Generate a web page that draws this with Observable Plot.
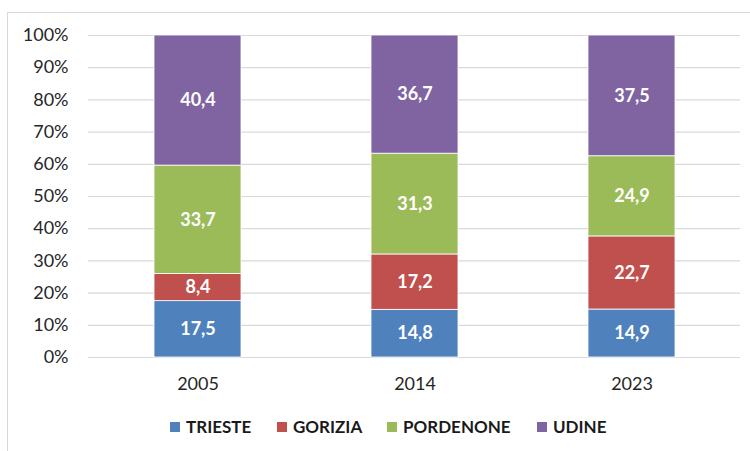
<!DOCTYPE html>
<html><head><meta charset="utf-8">
<script src="https://cdn.jsdelivr.net/npm/d3@7"></script>
<script src="https://cdn.jsdelivr.net/npm/@observablehq/plot@0.6"></script>
<style>
body{margin:0;background:#fff;font-family:Lato,"Open Sans",sans-serif;overflow:hidden;}
#frame{position:absolute;left:7px;top:12px;width:760px;height:460px;border:1px solid #d9d9d9;box-sizing:border-box;}
#chart{position:absolute;left:0;top:0;}
#legend{position:absolute;left:0;top:417px;width:750px;height:20px;}
.item{position:absolute;top:0;display:flex;align-items:center;font-weight:bold;font-size:17px;color:#1a1a1a;line-height:20px;}
.sw{width:10px;height:10px;margin-right:6px;display:inline-block;}
</style></head>
<body>
<div id="frame"></div>
<div id="chart"></div>
<div id="legend"></div>
<script>
const years = ["2005", "2014", "2023"];
const provinces = ["TRIESTE", "GORIZIA", "PORDENONE", "UDINE"];
const trieste = [17.5, 14.8, 14.9];
const gorizia = [8.4, 17.2, 22.7];
const pordenone = [33.7, 31.3, 24.9];
const udine = [40.4, 36.7, 37.5];
const colors = ["#4F81BD", "#C0504D", "#9BBB59", "#8064A2"];
const yTicks = [0, 10, 20, 30, 40, 50, 60, 70, 80, 90, 100];
const legendX = [170, 277, 387, 537];

const series = [trieste, gorizia, pordenone, udine];
const data = [];
provinces.forEach((p, i) => years.forEach((y, j) => data.push({year: y, province: p, value: series[i][j]})));
const fmt = v => v.toFixed(1).replace(".", ",");

const chart = Plot.plot({
  width: 750,
  height: 400,
  marginTop: 35,
  marginBottom: 43,
  marginLeft: 88,
  marginRight: 10,
  style: {fontFamily: "Lato, 'Open Sans', sans-serif", fontSize: "18px", color: "#262626", background: "transparent"},
  x: {domain: years, paddingInner: 0.6, paddingOuter: 0.3, label: null, tickSize: 0, tickPadding: 20},
  y: {domain: [0, 100], ticks: yTicks, tickFormat: d => d + "%", label: null, tickSize: 0, tickPadding: 20},
  color: {domain: provinces, range: colors},
  marks: [
    Plot.ruleY(yTicks, {stroke: "#d9d9d9", strokeWidth: 1.2}),
    Plot.barY(data, Plot.stackY({x: "year", y: "value", fill: "province", order: provinces, stroke: "#ffffff", strokeWidth: 0.8})),
    Plot.text(data, Plot.stackY({x: "year", y: "value", z: "province", order: provinces, text: d => fmt(d.value), fill: "white", fontWeight: "bold", fontSize: 18}))
  ]
});
document.getElementById("chart").appendChild(chart);

const legend = document.getElementById("legend");
provinces.forEach((p, i) => {
  const it = document.createElement("div");
  it.className = "item";
  it.style.left = legendX[i] + "px";
  const sw = document.createElement("span");
  sw.className = "sw";
  sw.style.background = colors[i];
  it.appendChild(sw);
  it.appendChild(document.createTextNode(p));
  legend.appendChild(it);
});
</script>
</body></html>
